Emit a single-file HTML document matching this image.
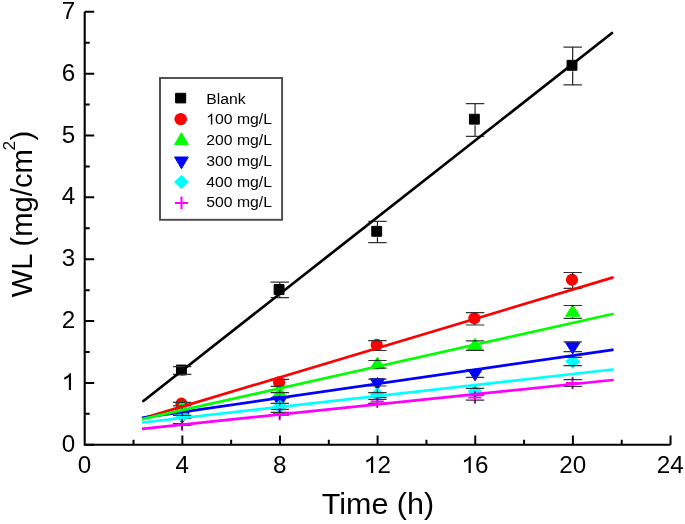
<!DOCTYPE html><html><head><meta charset="utf-8"><style>html,body{margin:0;padding:0;background:#fff;width:685px;height:524px;overflow:hidden}svg{display:block;will-change:transform}text{font-family:"Liberation Sans",sans-serif;fill:#000}</style></head><body>
<svg width="685" height="524" viewBox="0 0 685 524">
<path d="M84.7 11.78V444.8H670.54" stroke="#000" stroke-width="2.1" fill="none" stroke-linejoin="miter"/>
<path d="M133.52 444.8V439.80M182.34 444.8V435.40M231.16 444.8V439.80M279.98 444.8V435.40M328.80 444.8V439.80M377.62 444.8V435.40M426.44 444.8V439.80M475.26 444.8V435.40M524.08 444.8V439.80M572.90 444.8V435.40M621.72 444.8V439.80M670.54 444.8V435.40M84.7 444.80H94.20M84.7 413.87H89.70M84.7 382.94H94.20M84.7 352.01H89.70M84.7 321.08H94.20M84.7 290.15H89.70M84.7 259.22H94.20M84.7 228.29H89.70M84.7 197.36H94.20M84.7 166.43H89.70M84.7 135.50H94.20M84.7 104.57H89.70M84.7 73.64H94.20M84.7 42.71H89.70M84.7 11.78H94.20" stroke="#000" stroke-width="2" fill="none"/>
<text transform="translate(77.76,472.90) scale(1.04,1)" font-size="23.3">0</text>
<text transform="translate(175.40,472.90) scale(1.04,1)" font-size="23.3">4</text>
<text transform="translate(273.04,472.90) scale(1.04,1)" font-size="23.3">8</text>
<path transform="translate(363.95,472.90) scale(24.232,23.300)" d="M0.290 0L0.380 0L0.380 -0.716L0.322 -0.716C0.285 -0.64 0.195 -0.575 0.098 -0.54L0.098 -0.45C0.17 -0.475 0.245 -0.52 0.290 -0.565Z" fill="#000"/><text transform="translate(377.42,472.90) scale(1.04,1)" font-size="23.3">2</text>
<path transform="translate(461.59,472.90) scale(24.232,23.300)" d="M0.290 0L0.380 0L0.380 -0.716L0.322 -0.716C0.285 -0.64 0.195 -0.575 0.098 -0.54L0.098 -0.45C0.17 -0.475 0.245 -0.52 0.290 -0.565Z" fill="#000"/><text transform="translate(475.06,472.90) scale(1.04,1)" font-size="23.3">6</text>
<text transform="translate(559.23,472.90) scale(1.04,1)" font-size="23.3">20</text>
<text transform="translate(656.87,472.90) scale(1.04,1)" font-size="23.3">24</text>
<text transform="translate(61.83,451.90) scale(1.04,1)" font-size="23.3">0</text>
<path transform="translate(61.83,390.04) scale(24.232,23.300)" d="M0.290 0L0.380 0L0.380 -0.716L0.322 -0.716C0.285 -0.64 0.195 -0.575 0.098 -0.54L0.098 -0.45C0.17 -0.475 0.245 -0.52 0.290 -0.565Z" fill="#000"/>
<text transform="translate(61.83,328.18) scale(1.04,1)" font-size="23.3">2</text>
<text transform="translate(61.83,266.32) scale(1.04,1)" font-size="23.3">3</text>
<text transform="translate(61.83,204.46) scale(1.04,1)" font-size="23.3">4</text>
<text transform="translate(61.83,142.60) scale(1.04,1)" font-size="23.3">5</text>
<text transform="translate(61.83,80.74) scale(1.04,1)" font-size="23.3">6</text>
<text transform="translate(61.83,18.88) scale(1.04,1)" font-size="23.3">7</text>
<text transform="translate(377.9,514.1) scale(1.045,1)" font-size="29.2" text-anchor="middle">Time (h)</text>
<text transform="translate(31.8,297.25) rotate(-90)" font-size="29.2">WL (mg/cm</text>
<text transform="translate(15.0,150.4) rotate(-90)" font-size="17.4">2</text>
<text transform="translate(31.8,140.5) rotate(-90)" font-size="29.2">)</text>
<polygon points="176.49,365.05 186.39,365.05 186.39,374.95 176.49,374.95" fill="#000000" stroke="#000000" stroke-width="1" stroke-linejoin="round"/><polygon points="274.13,284.55 284.03,284.55 284.03,294.45 274.13,294.45" fill="#000000" stroke="#000000" stroke-width="1" stroke-linejoin="round"/><polygon points="371.77,226.35 381.67,226.35 381.67,236.25 371.77,236.25" fill="#000000" stroke="#000000" stroke-width="1" stroke-linejoin="round"/><polygon points="469.41,114.25 479.31,114.25 479.31,124.15 469.41,124.15" fill="#000000" stroke="#000000" stroke-width="1" stroke-linejoin="round"/><polygon points="567.05,60.35 576.95,60.35 576.95,70.25 567.05,70.25" fill="#000000" stroke="#000000" stroke-width="1" stroke-linejoin="round"/>
<circle cx="181.44" cy="403.70" r="6.1" fill="#ff0000"/><circle cx="279.08" cy="382.30" r="6.1" fill="#ff0000"/><circle cx="376.72" cy="344.90" r="6.1" fill="#ff0000"/><circle cx="474.36" cy="318.30" r="6.1" fill="#ff0000"/><circle cx="572.00" cy="279.80" r="6.1" fill="#ff0000"/>
<polygon points="182.14,399.92 189.29,411.29 174.99,411.29" fill="#00ff00" stroke="#00ff00" stroke-width="1" stroke-linejoin="round"/><polygon points="279.78,386.32 286.93,397.69 272.63,397.69" fill="#00ff00" stroke="#00ff00" stroke-width="1" stroke-linejoin="round"/><polygon points="377.42,357.12 384.57,368.49 370.27,368.49" fill="#00ff00" stroke="#00ff00" stroke-width="1" stroke-linejoin="round"/><polygon points="475.06,338.22 482.21,349.59 467.91,349.59" fill="#00ff00" stroke="#00ff00" stroke-width="1" stroke-linejoin="round"/><polygon points="572.70,304.82 579.85,316.19 565.55,316.19" fill="#00ff00" stroke="#00ff00" stroke-width="1" stroke-linejoin="round"/>
<polygon points="182.14,423.48 189.29,412.11 174.99,412.11" fill="#0000ff" stroke="#0000ff" stroke-width="1" stroke-linejoin="round"/><polygon points="279.78,408.18 286.93,396.81 272.63,396.81" fill="#0000ff" stroke="#0000ff" stroke-width="1" stroke-linejoin="round"/><polygon points="377.42,390.08 384.57,378.71 370.27,378.71" fill="#0000ff" stroke="#0000ff" stroke-width="1" stroke-linejoin="round"/><polygon points="475.06,380.78 482.21,369.41 467.91,369.41" fill="#0000ff" stroke="#0000ff" stroke-width="1" stroke-linejoin="round"/><polygon points="572.70,353.98 579.85,342.61 565.55,342.61" fill="#0000ff" stroke="#0000ff" stroke-width="1" stroke-linejoin="round"/>
<polygon points="182.14,408.79 189.12,415.40 182.14,422.01 175.16,415.40" fill="#00ffff" stroke="#00ffff" stroke-width="1" stroke-linejoin="round"/><polygon points="279.78,400.09 286.76,406.70 279.78,413.31 272.80,406.70" fill="#00ffff" stroke="#00ffff" stroke-width="1" stroke-linejoin="round"/><polygon points="377.42,387.99 384.40,394.60 377.42,401.21 370.44,394.60" fill="#00ffff" stroke="#00ffff" stroke-width="1" stroke-linejoin="round"/><polygon points="475.06,384.89 482.04,391.50 475.06,398.11 468.08,391.50" fill="#00ffff" stroke="#00ffff" stroke-width="1" stroke-linejoin="round"/><polygon points="572.70,354.79 579.68,361.40 572.70,368.01 565.72,361.40" fill="#00ffff" stroke="#00ffff" stroke-width="1" stroke-linejoin="round"/>
<path d="M175.34 424.40H188.54M181.94 418.10V430.70" stroke="#ff00ff" stroke-width="2" fill="none"/><path d="M272.98 413.90H286.18M279.58 407.60V420.20" stroke="#ff00ff" stroke-width="2" fill="none"/><path d="M370.62 401.60H383.82M377.22 395.30V407.90" stroke="#ff00ff" stroke-width="2" fill="none"/><path d="M468.26 397.40H481.46M474.86 391.10V403.70" stroke="#ff00ff" stroke-width="2" fill="none"/><path d="M565.90 383.00H579.10M572.50 376.70V389.30" stroke="#ff00ff" stroke-width="2" fill="none"/>
<path d="M172.94 366.70H191.34M172.94 374.40H191.34M270.58 282.20H288.98M270.58 297.60H288.98M368.22 221.40H386.62M368.22 242.60H386.62M465.86 103.70H484.26M465.86 136.30H484.26M563.50 47.10H581.90M563.50 84.90H581.90M172.94 402.40H191.34M172.94 405.90H191.34M270.58 379.30H288.98M270.58 386.40H288.98M368.22 340.70H386.62M368.22 350.50H386.62M465.86 312.60H484.26M465.86 325.00H484.26M563.50 272.50H581.90M563.50 288.30H581.90M270.58 392.70H288.98M270.58 397.50H288.98M368.22 360.50H386.62M368.22 368.20H386.62M465.86 340.80H484.26M465.86 350.30H484.26M563.50 305.50H581.90M563.50 318.40H581.90M270.58 397.80H288.98M270.58 403.40H288.98M368.22 379.10H386.62M368.22 386.00H386.62M465.86 369.50H484.26M465.86 377.30H484.26M563.50 341.90H581.90M563.50 351.60H581.90M172.94 415.30H191.34M172.94 418.40H191.34M270.58 403.40H288.98M270.58 409.40H288.98M368.22 392.70H386.62M368.22 397.30H386.62M465.86 388.40H484.26M465.86 395.20H484.26M563.50 357.40H581.90M563.50 365.60H581.90M172.94 423.50H191.34M172.94 425.40H191.34M270.58 412.30H288.98M270.58 415.20H288.98M368.22 399.30H386.62M368.22 403.30H386.62M465.86 394.80H484.26M465.86 400.20H484.26M563.50 379.70H581.90M563.50 386.50H581.90" stroke="#333" stroke-width="1.2" fill="none"/>
<path d="M182.14 366.70V365.30M182.14 374.40V375.80M279.78 282.20V284.65M279.78 297.60V295.15M377.42 221.40V226.75M377.42 242.60V237.25M475.06 103.70V114.75M475.06 136.30V125.25M572.70 47.10V60.75M572.70 84.90V71.25M182.14 402.40V398.90M182.14 405.90V409.40M279.78 379.30V377.60M279.78 386.40V388.10M377.42 340.70V340.35M377.42 350.50V350.85M475.06 312.60V313.55M475.06 325.00V324.05M572.70 272.50V275.15M572.70 288.30V285.65M279.78 392.70V389.85M279.78 397.50V400.35M377.42 360.50V359.10M377.42 368.20V369.60M475.06 340.80V340.30M475.06 350.30V350.80M572.70 305.50V306.70M572.70 318.40V317.20M279.78 397.80V395.35M279.78 403.40V405.85M377.42 379.10V377.30M377.42 386.00V387.80M475.06 369.50V368.15M475.06 377.30V378.65M572.70 341.90V341.50M572.70 351.60V352.00M182.14 415.30V411.60M182.14 418.40V422.10M279.78 403.40V401.15M279.78 409.40V411.65M377.42 392.70V389.75M377.42 397.30V400.25M475.06 388.40V386.55M475.06 395.20V397.05M572.70 357.40V356.25M572.70 365.60V366.75M182.14 423.50V419.20M182.14 425.40V429.70M279.78 412.30V408.50M279.78 415.20V419.00M377.42 399.30V396.05M377.42 403.30V406.55M475.06 394.80V392.25M475.06 400.20V402.75M572.70 379.70V377.85M572.70 386.50V388.35" stroke="#111" stroke-width="1.1" fill="none"/>
<path d="M142 418.6L612.5 277.6" stroke="#ff0000" stroke-width="2.7" fill="none"/><circle cx="612.5" cy="277.6" r="1.35" fill="#ff0000"/>
<path d="M142 417.8L612.5 349.8" stroke="#0000ff" stroke-width="2.7" fill="none"/><circle cx="612.5" cy="349.8" r="1.35" fill="#0000ff"/>
<path d="M142 419.1L612.5 314.0" stroke="#00ff00" stroke-width="2.7" fill="none"/><circle cx="612.5" cy="314.0" r="1.35" fill="#00ff00"/>
<path d="M142 422.5L612.5 369.5" stroke="#00ffff" stroke-width="2.7" fill="none"/><circle cx="612.5" cy="369.5" r="1.35" fill="#00ffff"/>
<path d="M142 428.8L612.5 380.0" stroke="#ff00ff" stroke-width="2.7" fill="none"/><circle cx="612.5" cy="380.0" r="1.35" fill="#ff00ff"/>
<line x1="143.4" y1="401.0" x2="612" y2="33.0" stroke="#000000" stroke-width="2.7" stroke-linecap="round"/>
<rect x="160.0" y="78" width="122.1" height="141.8" fill="none" stroke="#4a4a4a" stroke-width="1.9"/>
<polygon points="175.61,93.29 185.69,93.29 185.69,102.91 175.61,102.91" fill="#000000" stroke="#000000" stroke-width="1" stroke-linejoin="round"/>
<ellipse cx="180.7" cy="119.1" rx="6.3" ry="6.1" fill="#ff0000"/>
<polygon points="181.45,132.65 188.33,144.46 174.57,144.46" fill="#00ff00" stroke="#00ff00" stroke-width="1" stroke-linejoin="round"/>
<polygon points="181.45,168.81 188.33,157.00 174.57,157.00" fill="#0000ff" stroke="#0000ff" stroke-width="1" stroke-linejoin="round"/>
<polygon points="181.45,175.58 188.38,182.10 181.45,188.62 174.52,182.10" fill="#00ffff" stroke="#00ffff" stroke-width="1" stroke-linejoin="round"/>
<path d="M175 202.9H188M181.5 196.5V209.2" stroke="#ff00ff" stroke-width="2" fill="none"/>
<text transform="translate(206.30,103.60) scale(1.03,1)" font-size="15.3">Blank</text>
<path transform="translate(206.30,124.40) scale(15.759,15.300)" d="M0.290 0L0.380 0L0.380 -0.716L0.322 -0.716C0.285 -0.64 0.195 -0.575 0.098 -0.54L0.098 -0.45C0.17 -0.475 0.245 -0.52 0.290 -0.565Z" fill="#000"/><text transform="translate(215.06,124.40) scale(1.03,1)" font-size="15.3">00 mg/L</text>
<text transform="translate(206.30,144.80) scale(1.03,1)" font-size="15.3">200 mg/L</text>
<text transform="translate(206.30,165.60) scale(1.03,1)" font-size="15.3">300 mg/L</text>
<text transform="translate(206.30,186.90) scale(1.03,1)" font-size="15.3">400 mg/L</text>
<text transform="translate(206.30,207.30) scale(1.03,1)" font-size="15.3">500 mg/L</text>
</svg></body></html>
